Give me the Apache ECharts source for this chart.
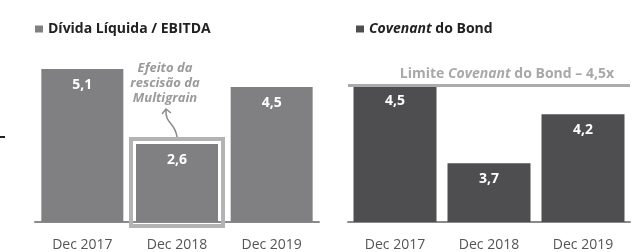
<!DOCTYPE html>
<html>
<head>
<meta charset="utf-8">
<script src="https://cdn.jsdelivr.net/npm/echarts@6/dist/echarts.min.js"></script>
<style>
  html, body { margin: 0; padding: 0; background: #fff; }
  #main { width: 642px; height: 252px; }
</style>
</head>
<body>
<div id="main"></div>
<script>
// data
const categories = ["Dec 2017", "Dec 2018", "Dec 2019"];
const dividaEbitda = [5.1, 2.6, 4.5];
const covenantBond = [4.5, 3.7, 4.2];
const covenantLimit = [4.5];

const FONT = "Open Sans";
const fmt = (v) => v.toFixed(1).replace(".", ",");

var myChart = echarts.init(document.getElementById("main"));

var option = {
  animation: false,
  textStyle: { fontFamily: FONT },
  legend: [
    {
      left: 30,
      top: 17,
      itemWidth: 8,
      itemHeight: 7,
      itemGap: 5,
      icon: "rect",
      data: ["Dívida Líquida / EBITDA"],
      textStyle: { fontSize: 14, fontWeight: "bold", color: "#222", fontFamily: FONT },
    },
    {
      left: 351,
      top: 17,
      itemWidth: 8,
      itemHeight: 7,
      itemGap: 5,
      icon: "rect",
      data: ["Covenant do Bond"],
      formatter: () => "{i|Covenant} do Bond",
      textStyle: {
        fontSize: 14,
        fontWeight: "bold",
        color: "#222",
        fontFamily: FONT,
        rich: { i: { fontStyle: "italic", fontWeight: "bold", fontSize: 14, color: "#222", fontFamily: FONT } },
      },
    },
  ],
  grid: [
    { left: 35, width: 284, top: 42, bottom: 30 },
    { left: 348, width: 282, top: 36, bottom: 30 },
  ],
  xAxis: [0, 1].map((i) => ({
    type: "category",
    gridIndex: i,
    data: categories,
    axisTick: { show: false },
    axisLine: { show: true, lineStyle: { color: "#8a8a8a", width: 2 } },
    axisLabel: { color: "#555", fontSize: 14, margin: 16, fontFamily: FONT },
  })),
  yAxis: [
    { type: "value", gridIndex: 0, min: 0, max: 6, show: false },
    { type: "value", gridIndex: 1, min: 3.1, max: 5.0, show: false },
  ],
  series: [
    {
      name: "Dívida Líquida / EBITDA",
      type: "bar",
      xAxisIndex: 0,
      yAxisIndex: 0,
      barWidth: 82,
      data: dividaEbitda,
      itemStyle: { color: "#808082" },
      label: {
        show: true,
        position: "insideTop",
        distance: 9,
        color: "#fff",
        fontWeight: "bold",
        fontSize: 14,
        fontFamily: FONT,
        formatter: (p) => fmt(p.value),
      },
    },
    {
      name: "Covenant do Bond",
      type: "bar",
      xAxisIndex: 1,
      yAxisIndex: 1,
      barWidth: 83,
      data: covenantBond,
      itemStyle: { color: "#4e4e50" },
      label: {
        show: true,
        position: "insideTop",
        distance: 9,
        color: "#fff",
        fontWeight: "bold",
        fontSize: 14,
        fontFamily: FONT,
        formatter: (p) => fmt(p.value),
      },
      markLine: {
        silent: true,
        symbol: "none",
        lineStyle: { color: "#ababab", width: 3, type: "solid" },
        label: {
          position: "insideEndTop",
          distance: [16, 4],
          formatter: "Limite {i|Covenant} do Bond – " + fmt(covenantLimit[0]) + "x",
          color: "#a8a8a8",
          fontWeight: "bold",
          fontSize: 14,
          fontFamily: FONT,
          rich: { i: { fontStyle: "italic", fontWeight: "bold", fontSize: 14, color: "#a8a8a8", fontFamily: FONT } },
        },
        data: [{ yAxis: covenantLimit[0] }],
      },
    },
  ],
};

myChart.setOption(option);

// highlight box + note around the Dec 2018 bar
const top2 = myChart.convertToPixel({ gridIndex: 0 }, [1, dividaEbitda[1]]);
const base2 = myChart.convertToPixel({ gridIndex: 0 }, [1, 0]);
const bx = top2[0];
const by = top2[1];
const half = 41;

myChart.setOption({
  graphic: [
    {
      type: "rect",
      shape: { x: bx - half - 5, y: by - 5, width: 2 * half + 10, height: base2[1] - by + 9 },
      style: { fill: null, stroke: "#b3b3b3", lineWidth: 4 },
      z: 10,
    },
    {
      type: "text",
      x: bx - 12,
      y: 61,
      style: {
        text: "Efeito da\nrescisão da\nMultigrain",
        align: "center",
        lineHeight: 15,
        fill: "#9a9a9a",
        font: "italic bold 13px '" + FONT + "'",
      },
    },
    {
      type: "bezierCurve",
      shape: { x1: bx, y1: by - 7, x2: bx - 11, y2: 110, cpx1: bx - 2, cpy1: 122, cpx2: bx - 12, cpy2: 124 },
      style: { stroke: "#8a8a8a", lineWidth: 1.5, fill: null },
    },
    {
      type: "polyline",
      shape: { points: [[bx - 15, 114], [bx - 11, 109], [bx - 6, 113]] },
      style: { stroke: "#8a8a8a", lineWidth: 1.5, fill: null },
    },
    {
      type: "line",
      shape: { x1: 0, y1: 137, x2: 5, y2: 137 },
      style: { stroke: "#222", lineWidth: 2 },
    },
  ],
});
</script>
</body>
</html>
